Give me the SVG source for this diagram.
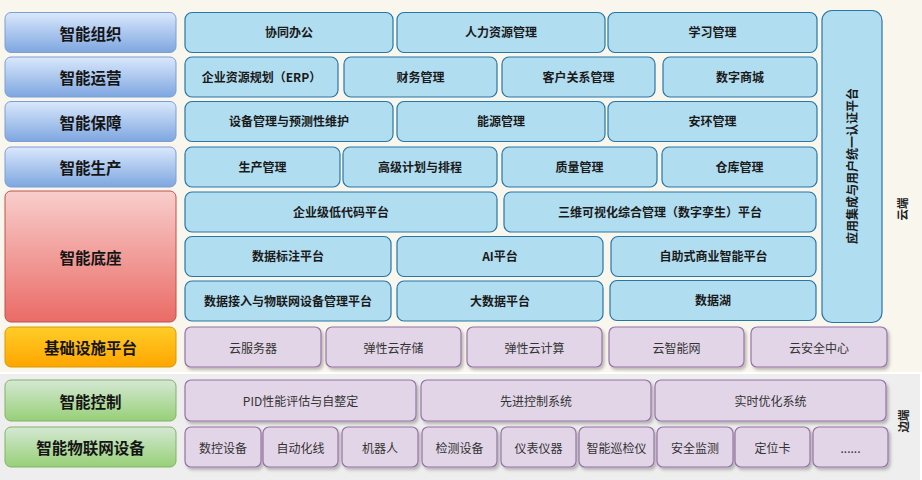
<svg xmlns="http://www.w3.org/2000/svg" width="922" height="480" viewBox="0 0 922 480">
<style>
text{font-family:"Noto Sans CJK SC","Noto Sans",sans-serif;text-anchor:middle;dominant-baseline:central}
.hd text{font-size:15.5px;font-weight:bold;fill:#151515}
.bl rect{fill:#b1ddf0;stroke:#2777a6;stroke-width:1.2}
.bl text{font-size:12px;font-weight:bold;fill:#1a1a1a}
.pp rect{fill:#e2d5e7;stroke:#9673a6;stroke-width:1.2;filter:url(#sh)}
.pp text{font-size:12px;fill:#333}
.side{font-size:11.5px;font-weight:bold;fill:#222}
</style>
<defs>
<linearGradient id="gb" x1="0" y1="0" x2="0" y2="1"><stop offset="0" stop-color="#dae8fc"/><stop offset="1" stop-color="#7ea6e0"/></linearGradient>
<linearGradient id="gr" x1="0" y1="0" x2="0" y2="1"><stop offset="0" stop-color="#f8cecc"/><stop offset="1" stop-color="#ea6b66"/></linearGradient>
<linearGradient id="go" x1="0" y1="0" x2="0" y2="1"><stop offset="0" stop-color="#ffcd28"/><stop offset="1" stop-color="#ffa500"/></linearGradient>
<linearGradient id="gg" x1="0" y1="0" x2="0" y2="1"><stop offset="0" stop-color="#d5e8d4"/><stop offset="1" stop-color="#97d077"/></linearGradient>
<filter id="sh" x="-10%" y="-10%" width="130%" height="140%"><feDropShadow dx="2" dy="2.5" stdDeviation="1.5" flood-color="#000" flood-opacity="0.25"/></filter>
</defs>
<rect x="0" y="0" width="922" height="372" fill="#f9f6ee"/>
<rect x="0" y="374" width="920" height="106" fill="#eeeeee"/>

<g id="headers" class="hd">
<g id="h1"><rect x="5" y="12.5" width="171" height="40" rx="6" fill="url(#gb)" stroke="#7b9fd4"/><text x="90.5" y="32.5">智能组织</text></g>
<g id="h2"><rect x="5" y="57" width="171" height="40" rx="6" fill="url(#gb)" stroke="#7b9fd4"/><text x="90.5" y="77">智能运营</text></g>
<g id="h3"><rect x="5" y="101.5" width="171" height="40" rx="6" fill="url(#gb)" stroke="#7b9fd4"/><text x="90.5" y="121.5">智能保障</text></g>
<g id="h4"><rect x="5" y="147" width="171" height="40" rx="6" fill="url(#gb)" stroke="#7b9fd4"/><text x="90.5" y="167">智能生产</text></g>
<g id="h5"><rect x="5" y="191" width="171" height="131" rx="6" fill="url(#gr)" stroke="#c0504d"/><text x="90.5" y="256.5">智能底座</text></g>
<g id="h6"><rect x="5" y="327" width="171" height="40" rx="6" fill="url(#go)" stroke="#d79b00"/><text x="90.5" y="347">基础设施平台</text></g>
<g id="h7"><rect x="5" y="380" width="171" height="41" rx="6" fill="url(#gg)" stroke="#82b366"/><text x="90.5" y="400.5">智能控制</text></g>
<g id="h8"><rect x="5" y="427" width="171" height="40" rx="6" fill="url(#gg)" stroke="#82b366"/><text x="90.5" y="447">智能物联网设备</text></g>
</g>

<g id="apps" class="bl">
<g id="a11"><rect x="185" y="12.5" width="208" height="40" rx="7"/><text x="289" y="31">协同办公</text></g>
<g id="a12"><rect x="397" y="12.5" width="208" height="40" rx="7"/><text x="501" y="31">人力资源管理</text></g>
<g id="a13"><rect x="608" y="12.5" width="209" height="40" rx="7"/><text x="712.5" y="31">学习管理</text></g>

<g id="a21"><rect x="185" y="57" width="153" height="40" rx="7"/><text x="261.5" y="76">企业资源规划（ERP）</text></g>
<g id="a22"><rect x="344" y="57" width="153" height="40" rx="7"/><text x="420.5" y="76">财务管理</text></g>
<g id="a23"><rect x="502" y="57" width="153" height="40" rx="7"/><text x="578.5" y="76">客户关系管理</text></g>
<g id="a24"><rect x="663" y="57" width="154" height="40" rx="7"/><text x="740" y="76">数字商城</text></g>

<g id="a31"><rect x="185" y="101.5" width="208" height="40" rx="7"/><text x="289" y="120.5">设备管理与预测性维护</text></g>
<g id="a32"><rect x="397" y="101.5" width="208" height="40" rx="7"/><text x="501" y="120.5">能源管理</text></g>
<g id="a33"><rect x="608" y="101.5" width="209" height="40" rx="7"/><text x="712.5" y="120.5">安环管理</text></g>

<g id="a41"><rect x="185" y="147" width="155" height="40" rx="7"/><text x="262.5" y="166">生产管理</text></g>
<g id="a42"><rect x="343" y="147" width="154" height="40" rx="7"/><text x="420" y="166">高级计划与排程</text></g>
<g id="a43"><rect x="502" y="147" width="155" height="40" rx="7"/><text x="579.5" y="166">质量管理</text></g>
<g id="a44"><rect x="662" y="147" width="155" height="40" rx="7"/><text x="739.5" y="166">仓库管理</text></g>

<g id="a51"><rect x="185" y="192" width="312" height="40" rx="7"/><text x="341" y="211">企业级低代码平台</text></g>
<g id="a52"><rect x="504" y="192" width="312" height="40" rx="7"/><text x="660" y="211">三维可视化综合管理（数字孪生）平台</text></g>

<g id="a61"><rect x="185" y="236.5" width="206" height="40" rx="7"/><text x="288" y="255.5">数据标注平台</text></g>
<g id="a62"><rect x="397" y="236.5" width="206" height="40" rx="7"/><text x="500" y="255.5">AI平台</text></g>
<g id="a63"><rect x="611" y="236.5" width="205" height="40" rx="7"/><text x="713.5" y="255.5">自助式商业智能平台</text></g>

<g id="a71"><rect x="185" y="281" width="206" height="40" rx="7"/><text x="288" y="300">数据接入与物联网设备管理平台</text></g>
<g id="a72"><rect x="397" y="281" width="206" height="40" rx="7"/><text x="500" y="300">大数据平台</text></g>
<g id="a73"><rect x="610" y="280.5" width="206" height="40" rx="7"/><text x="713" y="299.5">数据湖</text></g>

<g id="auth"><rect x="822" y="10.5" width="60" height="312" rx="10"/><text transform="translate(851,166) rotate(-90)">应用集成与用户统一认证平台</text></g>
</g>

<g id="infra" class="pp">
<g id="i1"><rect x="185" y="327" width="136" height="40" rx="6"/><text x="253" y="347">云服务器</text></g>
<g id="i2"><rect x="326" y="327" width="135" height="40" rx="6"/><text x="393.5" y="347">弹性云存储</text></g>
<g id="i3"><rect x="467" y="327" width="135" height="40" rx="6"/><text x="534.5" y="347">弹性云计算</text></g>
<g id="i4"><rect x="609" y="327" width="135" height="40" rx="6"/><text x="676.5" y="347">云智能网</text></g>
<g id="i5"><rect x="751" y="327" width="136" height="40" rx="6"/><text x="819" y="347">云安全中心</text></g>
</g>

<g id="control" class="pp">
<g id="c1"><rect x="185" y="380" width="231" height="41" rx="6"/><text x="300.5" y="400.5">PID性能评估与自整定</text></g>
<g id="c2"><rect x="421" y="380" width="230" height="41" rx="6"/><text x="536" y="400.5">先进控制系统</text></g>
<g id="c3"><rect x="655" y="380" width="231" height="41" rx="6"/><text x="770.5" y="400.5">实时优化系统</text></g>
</g>

<g id="devices" class="pp">
<g id="d1"><rect x="185" y="427" width="76" height="40" rx="6"/><text x="223" y="447">数控设备</text></g>
<g id="d2"><rect x="263" y="427" width="75" height="40" rx="6"/><text x="300.5" y="447">自动化线</text></g>
<g id="d3"><rect x="342" y="427" width="76" height="40" rx="6"/><text x="380" y="447">机器人</text></g>
<g id="d4"><rect x="422" y="427" width="75" height="40" rx="6"/><text x="459.5" y="447">检测设备</text></g>
<g id="d5"><rect x="501" y="427" width="75" height="40" rx="6"/><text x="538.5" y="447">仪表仪器</text></g>
<g id="d6"><rect x="579" y="427" width="75" height="40" rx="6"/><text x="616.5" y="447">智能巡检仪</text></g>
<g id="d7"><rect x="657" y="427" width="76" height="40" rx="6"/><text x="695" y="447">安全监测</text></g>
<g id="d8"><rect x="735" y="427" width="75" height="40" rx="6"/><text x="772.5" y="447">定位卡</text></g>
<g id="d9"><rect x="813" y="427" width="75" height="40" rx="6"/><text x="850.5" y="447">......</text></g>
</g>

<g id="connectors"></g>

<text class="side" transform="translate(902,209) rotate(-90)">云端</text>
<text class="side" transform="translate(903,421) rotate(-90)">边端</text>
</svg>
